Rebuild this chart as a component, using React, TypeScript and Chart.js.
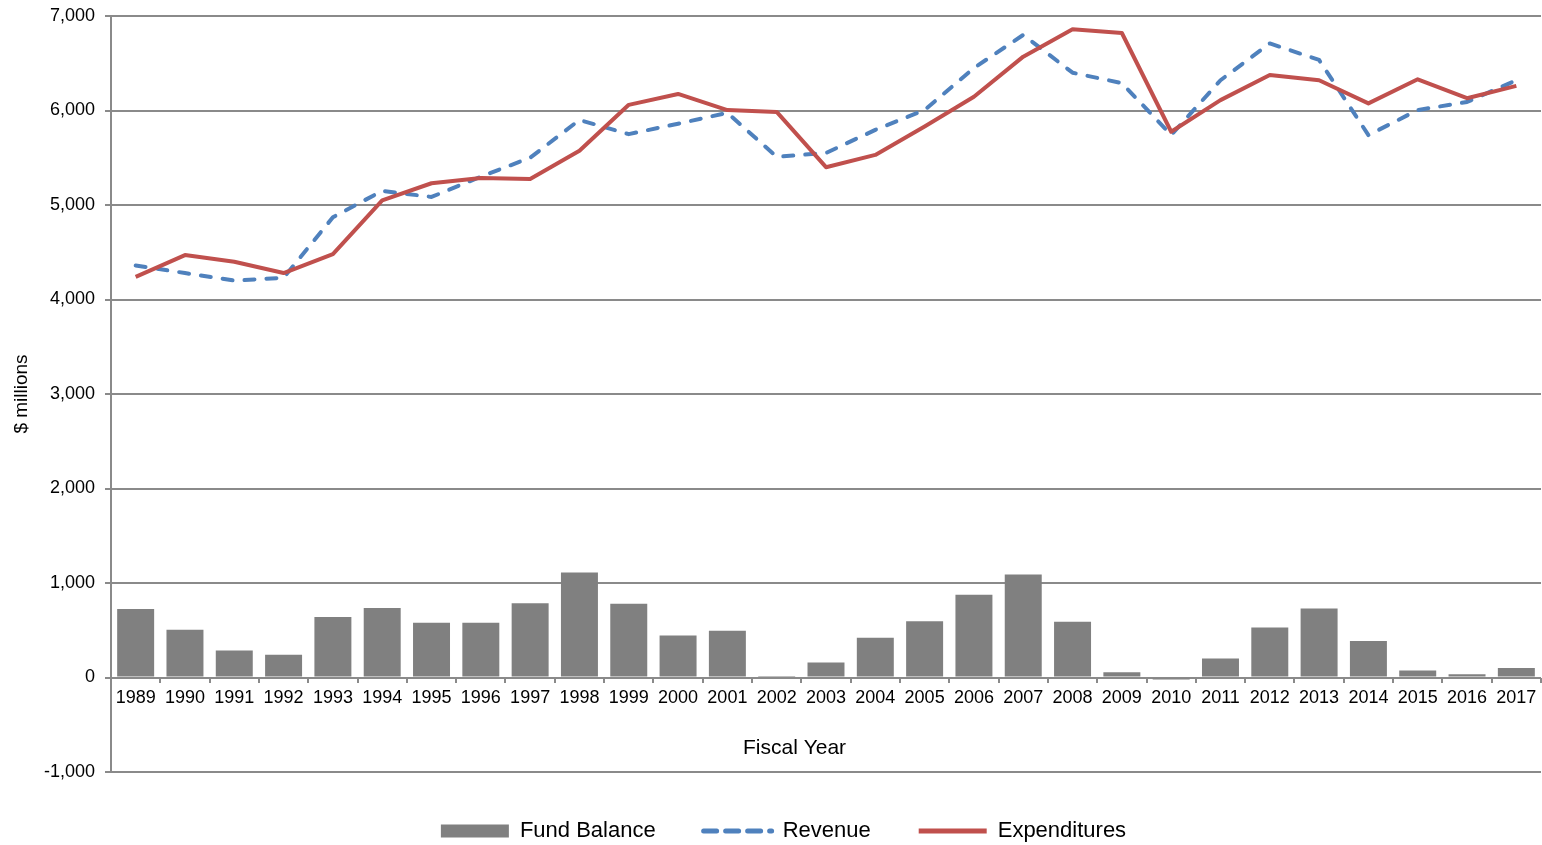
import React, { useEffect, useRef } from 'react';
import { Chart, registerables } from 'chart.js';

Chart.register(...registerables);

const FONT = '"Liberation Sans", Arial, Helvetica, sans-serif';

const years = [
  '1989', '1990', '1991', '1992', '1993', '1994', '1995', '1996', '1997', '1998',
  '1999', '2000', '2001', '2002', '2003', '2004', '2005', '2006', '2007', '2008',
  '2009', '2010', '2011', '2012', '2013', '2014', '2015', '2016', '2017',
];

const fundBalance = [
  725, 505, 285, 240, 640, 735, 580, 580, 785, 1110,
  780, 445, 495, 15, 160, 420, 595, 875, 1090, 590,
  55, -20, 200, 530, 730, 385, 75, 35, 100,
];

const revenue = [
  4360, 4280, 4200, 4230, 4870, 5150, 5085, 5300, 5500, 5900,
  5750, 5860, 5975, 5510, 5550, 5795, 6005, 6450, 6800, 6400,
  6290, 5740, 6320, 6710, 6535, 5740, 6005, 6090, 6320,
];

const expenditures = [
  4240, 4470, 4400, 4280, 4480, 5050, 5230, 5285, 5275, 5575,
  6060, 6175, 6005, 5985, 5400, 5530, 5830, 6145, 6570, 6860,
  6820, 5775, 6110, 6375, 6320, 6075, 6330, 6130, 6260,
];

const seriesNames = ['Fund Balance', 'Revenue', 'Expenditures'];
const xTitle = 'Fiscal Year';
const yTitle = '$ millions';
const yMin = -1000;
const yMax = 7000;
const yStep = 1000;

const GRID = '#8a8a8a';
const BAR = '#808080';
const BLUE = '#4F81BD';
const RED = '#C0504D';

const PAD_LEFT = 26;

const xTitlePlugin = {
  id: 'xTitlePlugin',
  afterDraw(chart: any) {
    const { ctx, chartArea, scales } = chart;
    const y0 = scales.y.getPixelForValue(0);
    ctx.save();
    ctx.font = `21px ${FONT}`;
    ctx.fillStyle = '#000';
    ctx.textAlign = 'center';
    ctx.textBaseline = 'middle';
    ctx.fillText(xTitle, chartArea.left + (chartArea.right - chartArea.left) * 0.478, y0 + 71);
    ctx.restore();
  },
};

export default function App() {
  const ref = useRef<HTMLCanvasElement | null>(null);

  useEffect(() => {
    if (!ref.current) return;
    const chart = new Chart(ref.current, {
      type: 'bar',
      data: {
        labels: years,
        datasets: [
          {
            type: 'bar',
            label: seriesNames[0],
            data: fundBalance,
            backgroundColor: BAR,
            borderWidth: 0,
            barPercentage: 0.75,
            categoryPercentage: 1,
            order: 3,
          },
          {
            type: 'line',
            label: seriesNames[1],
            data: revenue,
            borderColor: BLUE,
            backgroundColor: BLUE,
            borderWidth: 4,
            borderDash: [10, 12],
            borderCapStyle: 'round',
            borderJoinStyle: 'round',
            pointRadius: 0,
            tension: 0,
            fill: false,
            order: 2,
          },
          {
            type: 'line',
            label: seriesNames[2],
            data: expenditures,
            borderColor: RED,
            backgroundColor: RED,
            borderWidth: 4,
            borderJoinStyle: 'round',
            pointRadius: 0,
            tension: 0,
            fill: false,
            order: 1,
          },
        ] as any,
      },
      options: {
        responsive: false,
        devicePixelRatio: 1,
        animation: false,
        layout: { padding: { top: 16, right: 1, left: PAD_LEFT, bottom: 0 } },
        plugins: {
          tooltip: { enabled: false },
          legend: {
            position: 'bottom',
            labels: {
              usePointStyle: true,
              pointStyleWidth: 68,
              boxHeight: 13,
              padding: 48,
              color: '#000',
              font: { size: 22, family: FONT },
              generateLabels: () => [
                {
                  text: seriesNames[0], fillStyle: BAR, strokeStyle: BAR, lineWidth: 0,
                  pointStyle: 'rect', datasetIndex: 0, hidden: false,
                },
                {
                  text: seriesNames[1], fillStyle: 'rgba(0,0,0,0)', strokeStyle: BLUE, lineWidth: 5,
                  lineDash: [13, 9], lineCap: 'round', pointStyle: 'line', datasetIndex: 1, hidden: false,
                },
                {
                  text: seriesNames[2], fillStyle: 'rgba(0,0,0,0)', strokeStyle: RED, lineWidth: 5,
                  lineCap: 'butt', pointStyle: 'line', datasetIndex: 2, hidden: false,
                },
              ] as any,
            },
          },
        },
        scales: {
          x: {
            position: { y: 0 } as any,
            offset: true,
            grid: {
              display: true,
              drawOnChartArea: false,
              drawTicks: true,
              tickLength: 5,
              offset: true,
              color: GRID,
              lineWidth: 2,
            },
            border: { display: false },
            ticks: {
              color: '#000',
              font: { size: 18, family: FONT },
              padding: 5,
              maxRotation: 0,
              autoSkip: false,
            },
            title: { display: false },
            afterFit: (scale: any) => {
              scale.height = 5;
              scale.paddingLeft = 0;
              scale.paddingRight = 0;
              scale.paddingTop = 0;
              scale.paddingBottom = 0;
            },
          },
          y: {
            min: yMin,
            max: yMax,
            position: 'left',
            grid: {
              color: GRID,
              lineWidth: 2,
              drawTicks: true,
              tickLength: 6,
            },
            border: { display: true, color: GRID, width: 2 },
            ticks: {
              stepSize: yStep,
              color: '#000',
              font: { size: 18, family: FONT },
              padding: 10,
              callback: (v: any) => Number(v).toLocaleString('en-US'),
            },
            title: {
              display: true,
              text: yTitle,
              color: '#000',
              font: { size: 19, family: FONT },
              padding: { top: 22 - PAD_LEFT - 11.4, bottom: 0 },
            },
            afterFit: (scale: any) => {
              scale.width = 111 - PAD_LEFT;
              scale.paddingTop = 0;
              scale.paddingBottom = 0;
            },
          },
        },
      } as any,
      plugins: [xTitlePlugin],
    });
    return () => chart.destroy();
  }, []);

  return (
    <div
      style={{
        position: 'fixed',
        left: 0,
        top: 0,
        width: 1542,
        height: 845,
        overflow: 'hidden',
        background: '#fff',
      }}
    >
      <canvas
        ref={ref}
        width={1542}
        height={852}
        style={{ display: 'block', width: 1542, height: 852 }}
      />
    </div>
  );
}
